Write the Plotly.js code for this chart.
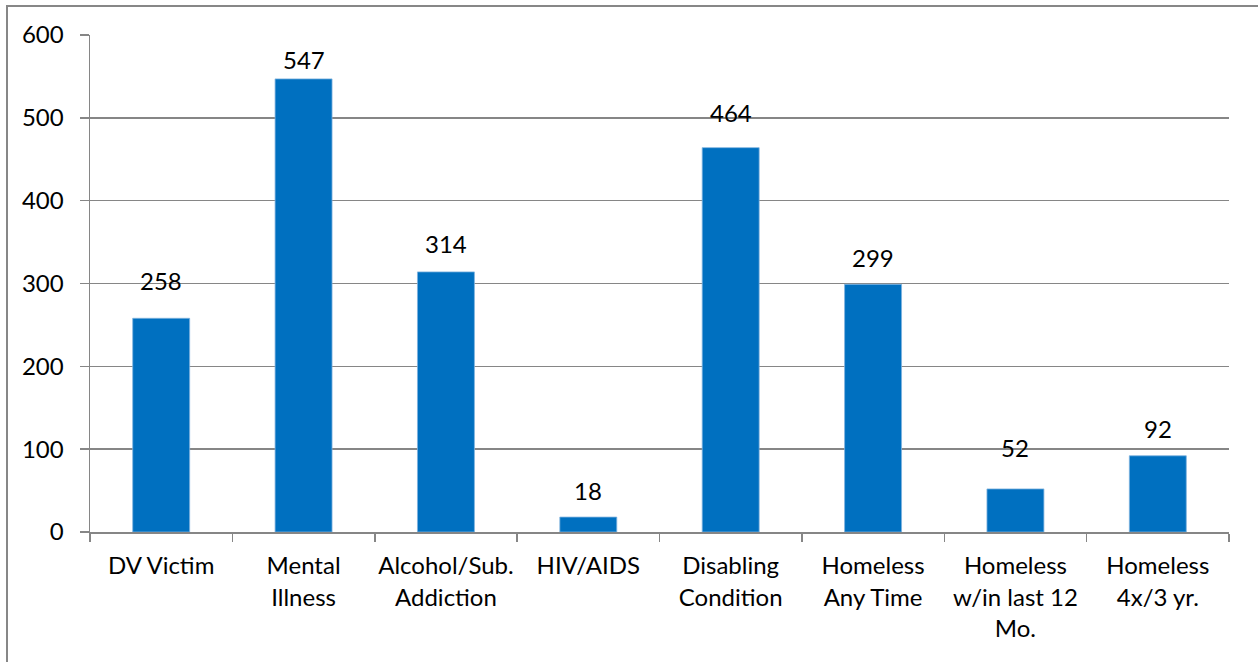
<!DOCTYPE html>
<html>
<head>
<meta charset="utf-8">
<script src="https://cdn.plot.ly/plotly-3.0.1.min.js"></script>
<style>
  html, body { margin: 0; padding: 0; background: #ffffff; }
  #frame {
    position: absolute; left: 6px; top: 5px;
    width: 1270px; height: 680px;
    border: 2px solid #878787; box-sizing: border-box;
  }
  #chart { position: absolute; left: 0; top: 0; width: 1258px; height: 662px; }
</style>
</head>
<body>
<div id="frame"></div>
<div id="chart"></div>
<script>
// Client characteristics counts
const categories = ['DV Victim', 'Mental Illness', 'Alcohol/Sub. Addiction', 'HIV/AIDS',
  'Disabling Condition', 'Homeless Any Time', 'Homeless w/in last 12 Mo.', 'Homeless 4x/3 yr.'];
const tickLabels = ['DV Victim', 'Mental<br>Illness', 'Alcohol/Sub.<br>Addiction', 'HIV/AIDS',
  'Disabling<br>Condition', 'Homeless<br>Any Time', 'Homeless<br>w/in last 12<br>Mo.', 'Homeless<br>4x/3 yr.'];
const counts = [258, 547, 314, 18, 464, 299, 52, 92];
const yTicks = [0, 100, 200, 300, 400, 500, 600];

// pixel lift of each value label above its bar
const labelLift = [38, 19, 28, 27, 35, 27, 41, 27];

const FONT = 'Lato, "Open Sans", sans-serif';
const FONT_SIZE = 24;

const trace = {
  type: 'bar',
  x: categories,
  y: counts,
  marker: { color: '#0070C0', line: { color: '#7fb3de', width: 0.8 } },
  hoverinfo: 'x+y'
};

const annotations = counts.map((v, i) => ({
  x: categories[i], y: v, xref: 'x', yref: 'y',
  text: String(v), showarrow: false,
  yanchor: 'middle', yshift: labelLift[i],
  font: { family: FONT, size: FONT_SIZE, color: '#000000' }
}));

const layout = {
  width: 1258, height: 662,
  margin: { l: 90, r: 29, t: 35, b: 130 },
  paper_bgcolor: 'rgba(0,0,0,0)',
  plot_bgcolor: 'rgba(0,0,0,0)',
  bargap: 0.6,
  showlegend: false,
  font: { family: FONT, size: FONT_SIZE, color: '#000000' },
  xaxis: {
    type: 'category',
    tickmode: 'array', tickvals: categories, ticktext: tickLabels,
    tickangle: 0,
    tickson: 'boundaries', ticks: 'outside', ticklen: 8, tickwidth: 1.5, tickcolor: '#868686',
    showline: true, linecolor: '#868686', linewidth: 1.5,
    showgrid: false, zeroline: false,
    tickfont: { family: FONT, size: FONT_SIZE, color: '#000000' },
    ticklabelstandoff: 12
  },
  yaxis: {
    range: [0, 600],
    tickmode: 'array', tickvals: yTicks,
    ticks: 'outside', ticklen: 9, tickwidth: 1.5, tickcolor: '#868686',
    showline: true, linecolor: '#868686', linewidth: 1.5,
    showgrid: true, gridcolor: '#868686', gridwidth: 1.5,
    zeroline: false,
    tickfont: { family: FONT, size: FONT_SIZE, color: '#000000' },
    ticklabelstandoff: 11
  },
  annotations: annotations
};

Plotly.newPlot('chart', [trace], layout, { staticPlot: true, displayModeBar: false });
</script>
</body>
</html>
